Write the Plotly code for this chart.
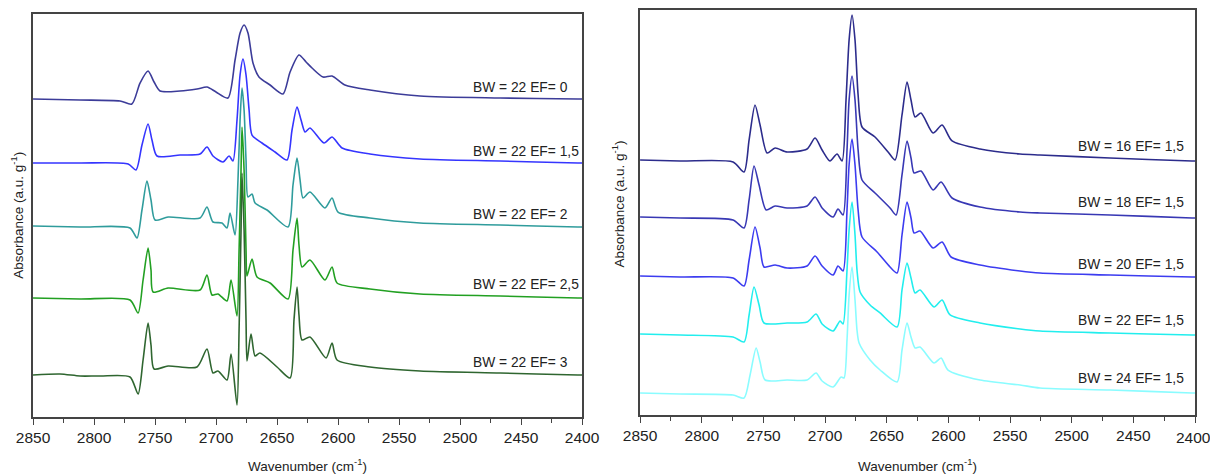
import plotly.graph_objects as go

# ---------------- Left panel: BW = 22, varying EF ----------------
wn_ef0 = [2850, 2811.5, 2778.7, 2769, 2762.3, 2755.7, 2750.8, 2745.9, 2729.5, 2715.6, 2707.4, 2700,
          2690.2, 2684.4, 2680.3, 2677, 2673.8, 2669.7, 2664.8, 2655.7, 2645.1, 2639.3, 2632, 2626.2,
          2621.3, 2612.3, 2604.9, 2594.3, 2573.8, 2532.8, 2467.2, 2403.3, 2400]
a_ef0 = [3.18, 3.17, 3.16, 3.13, 3.34, 3.46, 3.35, 3.26, 3.26, 3.28, 3.30, 3.25,
         3.19, 3.57, 3.84, 3.92, 3.84, 3.54, 3.40, 3.32, 3.23, 3.45, 3.62, 3.55,
         3.49, 3.40, 3.41, 3.32, 3.27, 3.21, 3.19, 3.18, 3.18]

wn_ef15 = [2850, 2811.5, 2772, 2765.6, 2760.7, 2755.7, 2752.5, 2748.4, 2729.5, 2713.1, 2707.4, 2702.5,
           2694.3, 2689.3, 2686.1, 2682.8, 2680.3, 2677.9, 2675.4, 2672.9, 2670.5, 2662.3, 2651.6,
           2641.8, 2637.7, 2633.6, 2630.3, 2627, 2623, 2611.5, 2604.9, 2596.7, 2573.8, 2532.8,
           2467.2, 2403.3, 2400]
a_ef15 = [2.54, 2.54, 2.53, 2.47, 2.72, 2.93, 2.77, 2.61, 2.62, 2.63, 2.70, 2.61,
          2.55, 2.61, 2.56, 2.97, 3.42, 3.58, 3.42, 3.07, 2.82, 2.74, 2.65,
          2.57, 2.87, 3.10, 2.97, 2.85, 2.89, 2.74, 2.80, 2.69, 2.63, 2.58,
          2.56, 2.54, 2.54]

wn_ef2 = [2850, 2811.5, 2770.5, 2764.8, 2760.7, 2756.6, 2753.3, 2750, 2739.3, 2713.1, 2707.4, 2702.5,
          2695.1, 2691, 2688.5, 2684.4, 2682, 2680.3, 2678.7, 2677, 2675.4, 2673.8, 2670.5, 2668,
          2658.2, 2641, 2636.9, 2633.6, 2631.1, 2628.7, 2623, 2610.7, 2604.9, 2600, 2573.8,
          2532.8, 2467.2, 2403.3, 2400]
a_ef2 = [1.91, 1.90, 1.89, 1.79, 2.07, 2.36, 2.17, 1.97, 2.00, 1.99, 2.10, 1.95,
         1.94, 1.89, 2.04, 1.82, 2.37, 2.97, 3.29, 3.07, 2.57, 2.20, 2.23, 2.14,
         2.07, 1.90, 2.32, 2.59, 2.37, 2.19, 2.25, 2.09, 2.19, 2.05, 1.99,
         1.94, 1.92, 1.90, 1.90]

wn_ef25 = [2850, 2811.5, 2770.5, 2763.9, 2759.8, 2755.7, 2753.3, 2751.6, 2739.3, 2713.1, 2707.4,
           2703.3, 2698.4, 2691, 2687.7, 2682.8, 2681.1, 2679.5, 2678.7, 2677, 2675.4, 2674.6,
           2670.5, 2666.4, 2655.7, 2641, 2636.9, 2633.6, 2632, 2629.5, 2623, 2610.7, 2604.9,
           2600.8, 2573.8, 2532.8, 2467.2, 2403.3, 2400]
a_ef25 = [1.19, 1.18, 1.17, 1.04, 1.37, 1.69, 1.47, 1.25, 1.29, 1.27, 1.42,
          1.22, 1.23, 1.16, 1.37, 1.01, 1.67, 2.47, 2.90, 2.47, 1.67, 1.41,
          1.58, 1.40, 1.34, 1.18, 1.67, 1.99, 1.72, 1.50, 1.57, 1.37, 1.50,
          1.34, 1.28, 1.23, 1.21, 1.19, 1.19]

wn_ef3 = [2850, 2827.9, 2811.5, 2795, 2770.5, 2763.9, 2759.8, 2755.7, 2753.3, 2750.8, 2739.3,
          2715.6, 2707.4, 2702.5, 2698.4, 2691, 2687.7, 2682.8, 2681.1, 2679.5, 2678.7, 2677,
          2675.4, 2674.6, 2671.3, 2668, 2664, 2650, 2639.3, 2636.1, 2633.6, 2632, 2629.5, 2623,
          2609.8, 2604.9, 2600.8, 2573.8, 2532.8, 2467.2, 2403.3, 2400]
a_ef3 = [0.42, 0.43, 0.41, 0.41, 0.40, 0.23, 0.57, 0.94, 0.72, 0.48, 0.51,
         0.50, 0.68, 0.44, 0.46, 0.37, 0.63, 0.12, 0.87, 1.87, 2.44, 1.87,
         0.97, 0.56, 0.83, 0.61, 0.64, 0.50, 0.39, 0.97, 1.30, 1.02, 0.77, 0.80,
         0.59, 0.74, 0.57, 0.50, 0.46, 0.44, 0.42, 0.42]

# ---------------- Right panel: EF = 1,5, varying BW ----------------
wn_bw16 = [2850, 2817.6, 2774.6, 2765.7, 2761.6, 2756.8, 2752.7, 2747, 2740.5, 2730.8, 2714.6,
           2708.1, 2702.4, 2696, 2690.3, 2686.2, 2683, 2680.5, 2678.1, 2675.7, 2673.2, 2670,
           2659.5, 2648.9, 2643.2, 2637.6, 2633.5, 2630.3, 2627, 2622.2, 2612.4, 2605.1, 2597,
           2574.3, 2541.9, 2525.7, 2468.9, 2402.4, 2400]
a_bw16 = [2.55, 2.54, 2.53, 2.43, 2.75, 3.10, 2.90, 2.62, 2.67, 2.63, 2.66,
          2.77, 2.65, 2.54, 2.61, 2.54, 3.15, 3.75, 4.00, 3.75, 3.20, 2.88,
          2.78, 2.63, 2.55, 3.00, 3.33, 3.15, 2.98, 3.02, 2.82, 2.90, 2.74,
          2.66, 2.61, 2.60, 2.57, 2.54, 2.54]

wn_bw18 = [2850, 2817.6, 2774.6, 2765.7, 2761.6, 2757.6, 2753.5, 2747.8, 2740.5, 2730.8, 2714.6,
           2708.1, 2702.4, 2693.5, 2689.5, 2685.4, 2682.2, 2680.5, 2678.1, 2675.7, 2673.2, 2670,
           2659.5, 2647.3, 2642.4, 2637.6, 2633.5, 2630.3, 2627.8, 2622.2, 2612.4, 2605.9, 2597,
           2574.3, 2541.9, 2525.7, 2468.9, 2402.4, 2400]
a_bw18 = [1.98, 1.97, 1.95, 1.87, 2.15, 2.49, 2.30, 2.05, 2.09, 2.07, 2.09,
          2.18, 2.07, 1.98, 2.06, 2.00, 2.65, 3.15, 3.39, 3.15, 2.65, 2.35,
          2.22, 2.07, 2.00, 2.40, 2.74, 2.57, 2.42, 2.44, 2.25, 2.33, 2.17,
          2.08, 2.03, 2.02, 2.00, 1.97, 1.97]

wn_bw20 = [2850, 2817.6, 2774.6, 2765.7, 2761.6, 2756.8, 2752.7, 2749.5, 2740.5, 2730.8, 2714.6,
           2708.1, 2702.4, 2693.5, 2689.5, 2685.4, 2682.2, 2680.5, 2678.1, 2675.7, 2673.2, 2670,
           2657.8, 2647.3, 2641.6, 2637.6, 2633.5, 2630.3, 2627.8, 2623, 2612.4, 2605.1, 2597.8,
           2574.3, 2541.9, 2525.7, 2468.9, 2402.4, 2400]
a_bw20 = [1.39, 1.38, 1.37, 1.29, 1.55, 1.88, 1.67, 1.48, 1.50, 1.47, 1.49,
          1.59, 1.49, 1.40, 1.49, 1.44, 2.05, 2.50, 2.76, 2.50, 2.05, 1.78,
          1.63, 1.48, 1.42, 1.80, 2.13, 1.97, 1.82, 1.84, 1.67, 1.73, 1.58,
          1.50, 1.44, 1.42, 1.40, 1.38, 1.38]

wn_bw22 = [2850, 2817.6, 2774.6, 2765.7, 2761.6, 2757.6, 2753.5, 2749.5, 2730.8, 2714.6, 2707.3,
           2702.4, 2693.5, 2687.8, 2685.4, 2682.2, 2680.5, 2678.1, 2675.7, 2674.1, 2671.6, 2663.5,
           2655.4, 2641.6, 2637.6, 2633.5, 2630.3, 2627, 2623, 2611.6, 2605.1, 2598.6, 2574.3,
           2541.9, 2525.7, 2468.9, 2402.4, 2400]
a_bw22 = [0.81, 0.80, 0.78, 0.73, 1.00, 1.28, 1.10, 0.92, 0.92, 0.93, 1.01,
          0.91, 0.84, 0.94, 0.91, 1.45, 1.85, 2.13, 1.80, 1.45, 1.23, 1.10,
          1.02, 0.88, 1.25, 1.52, 1.37, 1.22, 1.25, 1.08, 1.15, 1.00, 0.92,
          0.86, 0.84, 0.82, 0.80, 0.80]

wn_bw24 = [2850, 2817.6, 2774.6, 2765.7, 2760.8, 2755.9, 2752.7, 2748.6, 2730.8, 2714.6, 2707.3,
           2702.4, 2693.5, 2687, 2684.6, 2682.2, 2680.5, 2678.1, 2675.7, 2674.1, 2672.4, 2663.5,
           2655.4, 2641.6, 2637.6, 2633.5, 2630.3, 2627, 2623, 2611.6, 2605.9, 2600.3, 2574.3,
           2541.9, 2525.7, 2468.9, 2402.4, 2400]
a_bw24 = [0.22, 0.21, 0.20, 0.17, 0.40, 0.67, 0.53, 0.35, 0.35, 0.35, 0.42,
          0.34, 0.28, 0.38, 0.37, 0.75, 1.20, 1.48, 1.15, 0.85, 0.72, 0.55,
          0.45, 0.33, 0.65, 0.92, 0.78, 0.67, 0.68, 0.52, 0.57, 0.45, 0.35,
          0.30, 0.27, 0.25, 0.22, 0.22]

left_labels = ["BW = 22 EF= 0", "BW = 22 EF= 1,5", "BW = 22 EF= 2", "BW = 22 EF= 2,5", "BW = 22 EF= 3"]
left_label_y = [3.30, 2.66, 2.03, 1.33, 0.55]
right_labels = ["BW = 16 EF= 1,5", "BW = 18 EF= 1,5", "BW = 20 EF= 1,5", "BW = 22 EF= 1,5", "BW = 24 EF= 1,5"]
right_label_y = [2.68, 2.12, 1.50, 0.94, 0.37]

tick_values = [2850, 2800, 2750, 2700, 2650, 2600, 2550, 2500, 2450, 2400]
minor_values = [2825, 2775, 2725, 2675, 2625, 2575, 2525, 2475, 2425]

left_series = [(wn_ef0, a_ef0), (wn_ef15, a_ef15), (wn_ef2, a_ef2), (wn_ef25, a_ef25), (wn_ef3, a_ef3)]
right_series = [(wn_bw16, a_bw16), (wn_bw18, a_bw18), (wn_bw20, a_bw20), (wn_bw22, a_bw22), (wn_bw24, a_bw24)]

left_colors = ["#3c3c99", "#3535ff", "#2f9c9c", "#22a022", "#2f6630"]
right_colors = ["#2c2c8c", "#3838b4", "#3c3cf0", "#22eeee", "#8afcff"]

FONT = "Liberation Sans, Arial, sans-serif"
TXT = "#222222"

fig = go.Figure()
for (x, y), c in zip(left_series, left_colors):
    fig.add_trace(go.Scatter(x=x, y=y, mode="lines", xaxis="x", yaxis="y",
                             line=dict(color=c, width=1.6, shape="spline", smoothing=0.7),
                             showlegend=False, hoverinfo="skip"))
for (x, y), c in zip(right_series, right_colors):
    fig.add_trace(go.Scatter(x=x, y=y, mode="lines", xaxis="x2", yaxis="y2",
                             line=dict(color=c, width=1.6, shape="spline", smoothing=0.7),
                             showlegend=False, hoverinfo="skip"))

annotations = []
for txt, yv in zip(left_labels, left_label_y):
    annotations.append(dict(x=2491, y=yv, xref="x", yref="y", text=txt, showarrow=False,
                            xanchor="left", yanchor="middle",
                            font=dict(family=FONT, size=13.8, color=TXT)))
for txt, yv in zip(right_labels, right_label_y):
    annotations.append(dict(x=2407, y=yv, xref="x2", yref="y2", text=txt, showarrow=False,
                            xanchor="right", yanchor="middle",
                            font=dict(family=FONT, size=13.8, color=TXT)))

# last tick label of the right panel sits at the page edge, so it is written out here
annotations.append(dict(x=tick_values[-1], y=0.078, xref="x2", yref="paper", text=str(tick_values[-1]),
                        showarrow=False, xanchor="center", yanchor="middle", xshift=-2,
                        font=dict(family=FONT, size=15.5, color=TXT)))

# axis titles
xt = "Wavenumber (cm<sup>-1</sup>)"
yt = "Absorbance (a.u. g<sup>-1</sup>)"
annotations += [
    dict(x=0.2543, y=0.022, xref="paper", yref="paper", text=xt, showarrow=False,
         xanchor="center", yanchor="middle", font=dict(family=FONT, size=13.5, color=TXT)),
    dict(x=0.7583, y=0.022, xref="paper", yref="paper", text=xt, showarrow=False,
         xanchor="center", yanchor="middle", font=dict(family=FONT, size=13.5, color=TXT)),
    dict(x=0.0145, y=0.547, xref="paper", yref="paper", text=yt, showarrow=False, textangle=-90,
         xanchor="center", yanchor="middle", font=dict(family=FONT, size=13.5, color=TXT)),
    dict(x=0.511, y=0.57, xref="paper", yref="paper", text=yt, showarrow=False, textangle=-90,
         xanchor="center", yanchor="middle", font=dict(family=FONT, size=13.5, color=TXT)),
]

xaxis_common = dict(
    range=[2850, 2400], tickmode="array", tickvals=tick_values,
    ticks="outside", ticklen=6, tickwidth=1.2, tickcolor="#444",
    minor=dict(tickvals=minor_values, ticks="outside", ticklen=4, tickwidth=1.2, tickcolor="#444"),
    showline=True, linecolor="#444", linewidth=1.5, mirror=True,
    showgrid=False, zeroline=False, automargin=False,
    tickfont=dict(family=FONT, size=15.5, color=TXT),
)
yaxis_common = dict(showticklabels=False, ticks="", showline=True, linecolor="#444", linewidth=1.5,
                    mirror=True, showgrid=False, zeroline=False, automargin=False)

fig.update_layout(
    width=1210, height=475,
    margin=dict(l=0, r=0, t=0, b=0, autoexpand=False),
    paper_bgcolor="white", plot_bgcolor="white",
    xaxis=dict(domain=[0.0273, 0.481], anchor="y", **xaxis_common),
    yaxis=dict(domain=[0.1221, 0.9705], anchor="x", range=[0, 4.03], **yaxis_common),
    xaxis2=dict(domain=[0.529, 0.9876], anchor="y2", **xaxis_common),
    yaxis2=dict(domain=[0.1263, 0.979], anchor="x2", range=[0, 4.05], **yaxis_common),
    annotations=annotations,
    showlegend=False,
)

fig.write_html("out.html")
